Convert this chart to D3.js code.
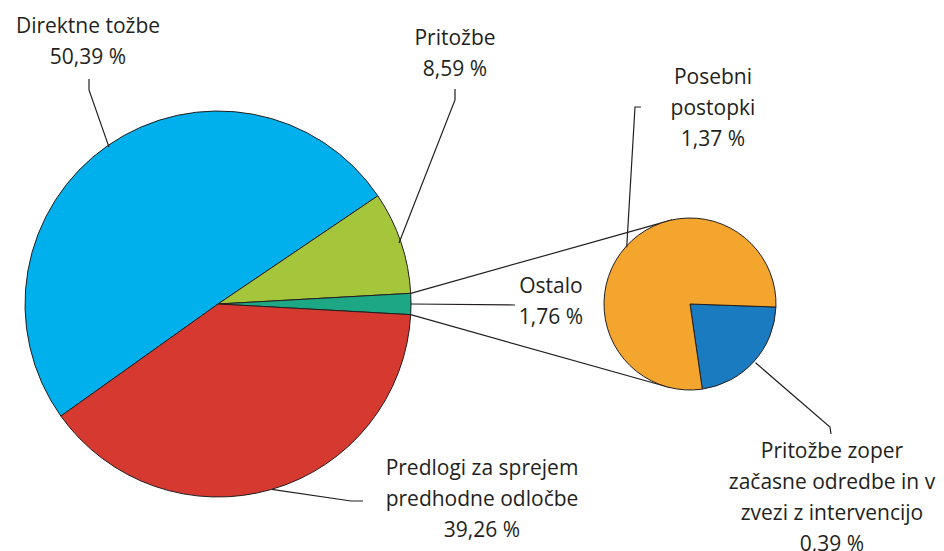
<!DOCTYPE html>
<html>
<head>
<meta charset="utf-8">
<script src="https://cdn.jsdelivr.net/npm/d3@7"></script>
<style>
  body { margin: 0; background: #fff; }
  svg text { font-family: "Open Sans", "Noto Sans", sans-serif; fill: #231f20; }
</style>
</head>
<body>
<svg id="chart" width="944" height="551"></svg>
<script>
// main pie
const mainLabels = ['Direktne tožbe', 'Pritožbe', 'Ostalo', 'Predlogi za sprejem predhodne odločbe'];
const mainValues = [50.39, 8.59, 1.76, 39.26];
const mainColors = ['#00b0ec', '#a5c63b', '#1ea784', '#d6392f'];

// breakdown of "Ostalo"
const subLabels = ['Pritožbe zoper začasne odredbe in v zvezi z intervencijo', 'Posebni postopki'];
const subValues = [0.39, 1.37];
const subColors = ['#1b7bc0', '#f4a52d'];

const svg = d3.select('#chart');
const TAU = Math.PI * 2;
const deg = d => d * Math.PI / 180;

const C1 = { x: 218, y: 304, r: 193 };
const C2 = { x: 690, y: 304, r: 86 };

// rotate so that "Ostalo" sits at 3 o'clock
const before = d3.sum(mainValues.slice(0, 2)) + mainValues[2] / 2;
const start1 = Math.PI / 2 - before / d3.sum(mainValues) * TAU;

const pie1 = d3.pie().sort(null).value(d => d).startAngle(start1).endAngle(start1 + TAU);
const pie2 = d3.pie().sort(null).value(d => d).startAngle(deg(92)).endAngle(deg(92) + TAU);
const arc1 = d3.arc().innerRadius(0).outerRadius(C1.r);
const arc2 = d3.arc().innerRadius(0).outerRadius(C2.r);

const arcs1 = pie1(mainValues);
const arcs2 = pie2(subValues);

const polar = (c, a, r) => [c.x + r * Math.sin(a), c.y - r * Math.cos(a)];

// ── connector lines between the two pies ──
const ost = arcs1[2];
const conn = [
  [polar(C1, ost.startAngle, C1.r), polar(C2, deg(-12), C2.r)],
  [polar(C1, ost.endAngle, C1.r), polar(C2, deg(193), C2.r)],
];
svg.selectAll('line.conn').data(conn).join('line')
  .attr('x1', d => d[0][0]).attr('y1', d => d[0][1])
  .attr('x2', d => d[1][0]).attr('y2', d => d[1][1])
  .attr('stroke', '#231f20').attr('stroke-width', 1.2);

// ── pies ──
svg.append('g').attr('transform', `translate(${C1.x},${C1.y})`)
  .selectAll('path').data(arcs1).join('path')
  .attr('d', arc1).attr('fill', (d, i) => mainColors[i])
  .attr('stroke', '#231f20').attr('stroke-width', 1);

svg.append('g').attr('transform', `translate(${C2.x},${C2.y})`)
  .selectAll('path').data(arcs2).join('path')
  .attr('d', arc2).attr('fill', (d, i) => subColors[i])
  .attr('stroke', '#231f20').attr('stroke-width', 1);

// ── labels + leader lines ──
const fmt = v => d3.format('.2f')(v).replace('.', ',') + ' %';
const mid = d => (d.startAngle + d.endAngle) / 2;

const labels = [
  { lines: ['Direktne tožbe'], v: mainValues[0], x: 88, y: 33,
    from: polar(C1, mid(arcs1[0]), C1.r - 2), pts: [[89, 90], [89, 79]] },
  { lines: ['Pritožbe'], v: mainValues[1], x: 455, y: 45,
    from: polar(C1, mid(arcs1[1]), C1.r - 2), pts: [[455, 100], [455, 89]] },
  { lines: ['Ostalo'], v: mainValues[2], x: 551, y: 293,
    from: polar(C1, mid(arcs1[2]), C1.r), pts: [[515, 305]] },
  { lines: ['Predlogi za sprejem', 'predhodne odločbe'], v: mainValues[3], x: 482, y: 475,
    from: polar(C1, mid(arcs1[3]), C1.r), pts: [[351, 501], [363, 501]] },
  { lines: ['Posebni', 'postopki'], v: subValues[1], x: 713, y: 84,
    from: polar(C2, mid(arcs2[1]), C2.r - 1), pts: [[635, 107], [641, 107]] },
  { lines: ['Pritožbe zoper', 'začasne odredbe in v', 'zvezi z intervencijo'], v: subValues[0], x: 832, y: 458,
    from: polar(C2, mid(arcs2[0]), C2.r + 2), pts: [[830, 427], [831, 434]] },
];

svg.selectAll('path.leader').data(labels).join('path')
  .attr('class', 'leader')
  .attr('d', d => d3.line()([d.from, ...d.pts]))
  .attr('fill', 'none').attr('stroke', '#231f20').attr('stroke-width', 1.2);

const lh = 31;
labels.forEach(d => {
  const t = svg.append('text').attr('text-anchor', 'middle').attr('font-size', 21);
  [...d.lines, fmt(d.v)].forEach((s, i) => {
    t.append('tspan').attr('x', d.x).attr('y', d.y + i * lh).text(s);
  });
});
</script>
</body>
</html>
